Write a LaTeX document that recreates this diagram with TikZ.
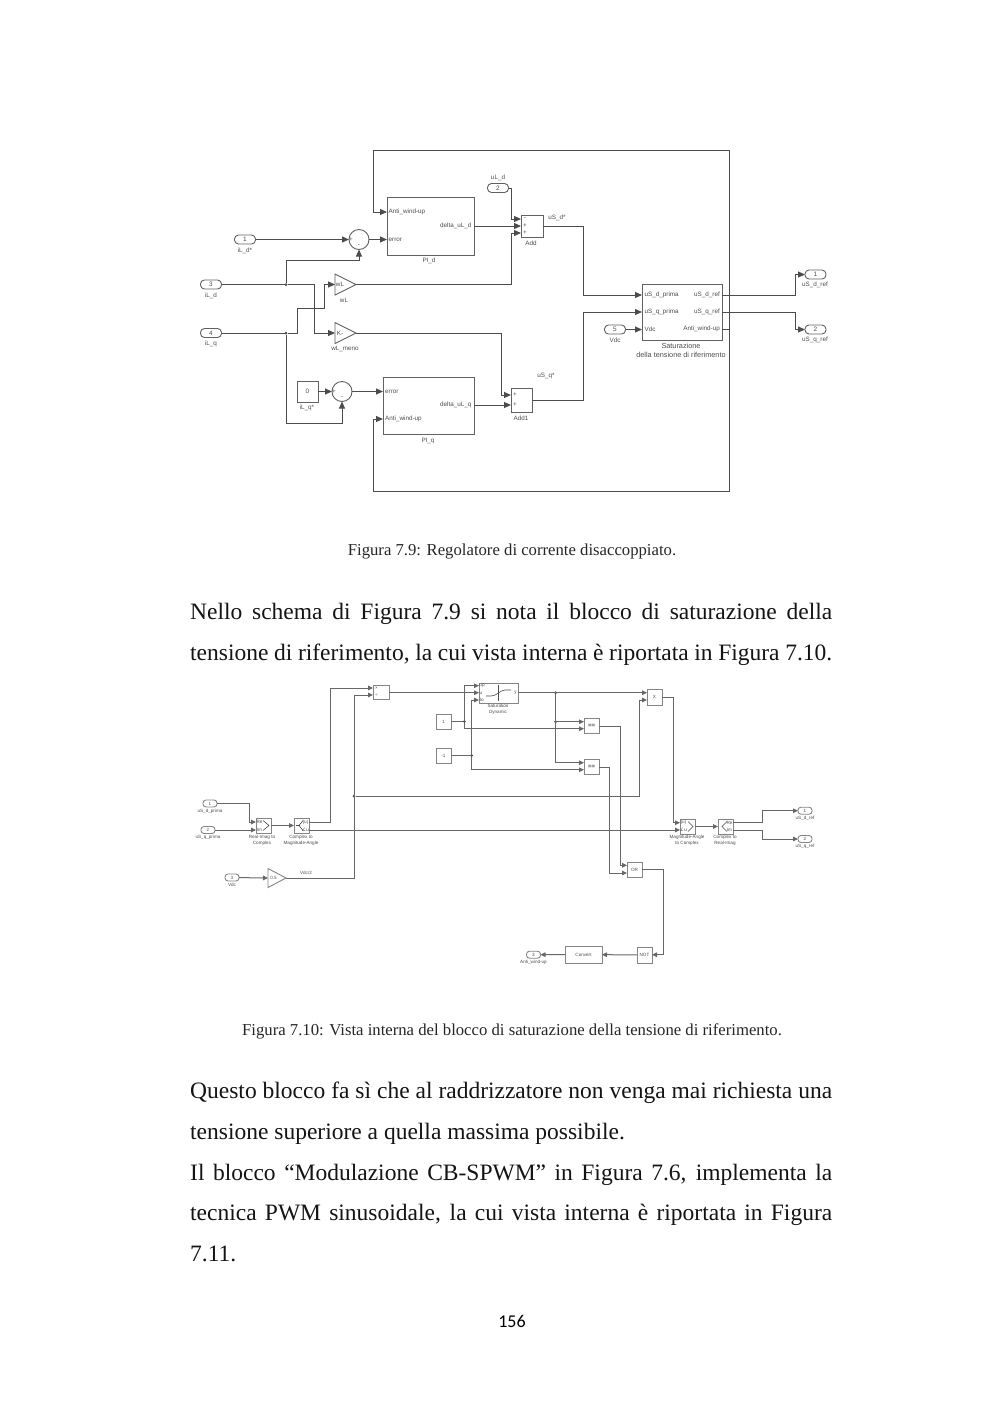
\documentclass[tikz,border=0pt]{standalone}
\usepackage{fontspec}
\setmainfont{Liberation Serif}
\setsansfont{Liberation Sans}
\newfontfamily\pagenofont{Carlito}
\newfontfamily\symbfont{DejaVu Sans}
\usetikzlibrary{arrows.meta, positioning, calc, shapes.geometric}
\definecolor{wirecol}{gray}{0.30}
\definecolor{boxcol}{gray}{0.38}
\definecolor{softbox}{gray}{0.52}
\definecolor{labelcol}{gray}{0.30}
\tikzset{
  bodyline/.style={anchor=base west, inner sep=0pt, font=\fontsize{23.5}{28}\selectfont, text=black!92},
  caption/.style={anchor=base, inner sep=0pt, font=\fontsize{16.7}{18}\selectfont, text=black!85},
  wire/.style={draw=wirecol, line width=1pt, >={Triangle[length=7pt,width=6pt]}},
  thinwire/.style={draw=wirecol!85, line width=1pt, >={Triangle[length=5pt,width=4.6pt]}},
  bigbox/.style={draw=boxcol, line width=1pt, fill=white, inner sep=0pt, outer sep=0pt},
  smallbox/.style={draw=softbox, line width=1pt, fill=white, inner sep=0pt, outer sep=0pt, text=labelcol, font=\sffamily\fontsize{4.6}{5}\selectfont},
  lab/.style={inner sep=0pt, text=labelcol, font=\sffamily\fontsize{6.3}{7.6}\selectfont, align=center},
  tiny/.style={inner sep=0pt, text=labelcol, font=\sffamily\fontsize{4.6}{6}\selectfont, align=center},
  port/.style={draw=boxcol, line width=.9pt, fill=white, rounded corners=4pt, minimum width=21pt, minimum height=9pt, inner sep=0pt, outer sep=0pt, text=labelcol, font=\sffamily\fontsize{6.4}{7}\selectfont},
  smallport/.style={draw=softbox, line width=.9pt, fill=white, rounded corners=3pt, minimum width=14pt, minimum height=7pt, inner sep=0pt, outer sep=0pt, text=labelcol, font=\sffamily\fontsize{4.6}{5}\selectfont},
  gain/.style={isosceles triangle, isosceles triangle apex angle=53, isosceles triangle stretches, draw=boxcol, line width=.9pt, fill=white, inner sep=0pt, outer sep=0pt, anchor=west},
  sumnode/.style={circle, draw=boxcol, line width=.9pt, fill=white, minimum size=20pt, inner sep=0pt, outer sep=0pt},
  dot/.style={circle, fill=wirecol, minimum size=3pt, inner sep=0pt, outer sep=0pt},
  size/.style 2 args={minimum width=#1pt, minimum height=#2pt},
  icon/.style={draw=wirecol, line width=.6pt},
}
\begin{document}
\begin{tikzpicture}[x=1pt, y=-1pt]
    \useasboundingbox (0,0) rectangle (1000,1414);

    % Regolatore: blocks
    \node[bigbox, size={87}{58}] (PId) at (430.5,226) {};
    \node[bigbox, size={91}{57}] (PIq) at (428.5,405.5) {};
    \node[bigbox, size={22}{22}] (Add) at (532,226) {};
    \node[bigbox, size={21}{24}] (AddB) at (521.5,400) {};
    \node[bigbox, size={80}{56}] (Sat) at (682,312) {};
    \node[bigbox, size={21}{21}, text=labelcol, font=\sffamily\fontsize{6.4}{7}\selectfont] (Kzero) at (307.5,391.5) {0};
    \node[sumnode] (Sumd) at (359,239.5) {};
    \node[sumnode] (Sumq) at (342,391.5) {};
    \node[gain, size={21}{21}] (wL) at (335,284.5) {};
    \node[gain, size={21}{21}] (wLmeno) at (335,333) {};

    % Regolatore: ports
    \node[port] (iLdstar) at (245,239.5) {1};
    \node[port] (iLd) at (211,284.5) {3};
    \node[port] (iLq) at (211,333) {4};
    \node[port] (uLd) at (498,188) {2};
    \node[port] (Vdc) at (615,329.5) {5};
    \node[port] (uSdref) at (815.5,274.5) {1};
    \node[port] (uSqref) at (815.5,329.5) {2};

    % Regolatore: junctions
    \node[dot] (jd) at (286,284.5) {};
    \node[dot] (jq) at (286,333) {};
    \coordinate (antiend) at (729,329);

    % Regolatore: connectors
    \draw[wire,->] (iLdstar) -- (Sumd);
    \draw[wire,->] (Sumd) -- (PId.west|-Sumd);
    \draw[wire,->] (iLd) -- (jd) -- (314,284.5) |- (wLmeno.west);
    \draw[wire,->] (jd) |- (359,260.5) -- (Sumd);
    \draw[wire,->] (iLq) -- (jq) -- (297,333) |- (324,308.7) |- (wL.west);
    \draw[wire,->] (jq) |- (342,423) -- (Sumq);
    \draw[wire,->] (wL.apex) -| (511.7,233) -- (Add.west|-0,233);
    \draw[wire,->] (wLmeno.apex) -| (501,395) -- (AddB.west|-0,395);
    \draw[wire,->] (uLd) -| (511.7,219) -- (Add.west|-0,219);
    \draw[wire,->] (PId.east|-Add) -- (Add);
    \draw[wire,->] (PIq.east|-0,405) -- (AddB.west|-0,405);
    \draw[wire,->] (Kzero) -- (Sumq);
    \draw[wire,->] (Sumq) -- (PIq.west|-Sumq);
    \draw[wire,->] (Add) -| (583.5,295) -- (Sat.west|-0,295);
    \draw[wire,->] (AddB) -| (583.5,312) -- (Sat.west|-0,312);
    \draw[wire,->] (Vdc) -- (Sat.west|-Vdc);
    \draw[wire,->] (Sat.east|-0,295) -| (795,274.5) -- (uSdref);
    \draw[wire,->] (Sat.east|-0,312) -| (795,329.5) -- (uSqref);
    \draw[wire] (Sat.east|-antiend) -- (antiend);
    \draw[wire,->] (antiend) |- (373,150) |- (PId.west|-0,212);
    \draw[wire,->] (antiend) |- (373,491) |- (PIq.west|-0,419);

    % Regolatore: labels
    \node[lab] (lb1) at (245,250.5) {iL\_d*};
    \node[lab] (lb2) at (211,295.5) {iL\_d};
    \node[lab] (lb3) at (211,344) {iL\_q};
    \node[lab] (lb4) at (498,177.5) {uL\_d};
    \node[lab] (lb5) at (344,300.5) {wL};
    \node[lab] (lb6) at (345,349) {wL\_meno};
    \node[lab] (lb7) at (307,408) {iL\_q*};
    \node[lab] (lb8) at (429,261) {PI\_d};
    \node[lab] (lb9) at (428,440.5) {PI\_q};
    \node[lab] (lb10) at (531,243) {Add};
    \node[lab] (lb11) at (521,418) {Add1};
    \node[lab] (lb12) at (557,217.5) {uS\_d*};
    \node[lab] (lb13) at (546,375.5) {uS\_q*};
    \node[lab] (lb14) at (615,340) {Vdc};
    \node[lab, font=\sffamily\fontsize{7.3}{9}\selectfont] (lb15) at (681,350) {Saturazione\\della tensione di riferimento};
    \node[lab] (lb16) at (815,285) {uS\_d\_ref};
    \node[lab] (lb17) at (815,340) {uS\_q\_ref};
    \node[lab, anchor=west] (lb18) at (388.5,212) {Anti\_wind-up};
    \node[lab, anchor=west] (lb19) at (388.5,239.5) {error};
    \node[lab, anchor=east] (lb20) at (471.5,226) {delta\_uL\_d};
    \node[lab, anchor=west] (lb21) at (385,391.5) {error};
    \node[lab, anchor=west] (lb22) at (385,419) {Anti\_wind-up};
    \node[lab, anchor=east] (lb23) at (471.5,405) {delta\_uL\_q};
    \node[lab, anchor=west] (lb24) at (644.5,295) {uS\_d\_prima};
    \node[lab, anchor=west] (lb25) at (644.5,312) {uS\_q\_prima};
    \node[lab, anchor=west] (lb26) at (644.5,329) {Vdc};
    \node[lab, anchor=east] (lb27) at (720,295) {uS\_d\_ref};
    \node[lab, anchor=east] (lb28) at (720,312) {uS\_q\_ref};
    \node[lab, anchor=east] (lb29) at (720,329) {Anti\_wind-up};
    \node[lab] (lb30) at (340,284.5) {wL};
    \node[lab] (lb31) at (340,333) {K-};
    \node[lab] (lb32) at (351,239.5) {+};
    \node[lab] (lb33) at (359,246) {-};
    \node[lab] (lb34) at (334,391.5) {+};
    \node[lab] (lb35) at (342,398) {-};
    \node[lab] (lb36) at (525,219) {-};
    \node[lab] (lb37) at (525,226) {+};
    \node[lab] (lb38) at (525,233) {+};
    \node[lab] (lb39) at (515,395) {+};
    \node[lab] (lb40) at (515,405) {+};

    % Saturazione: blocks
    \node[smallbox, size={15}{15}] (RI) at (263.5,825.5) {};
    \node[smallbox, size={15}{15}] (CM) at (301.5,825.5) {};
    \node[smallbox, size={16}{14}] (Prod) at (381,692) {};
    \node[smallbox, size={39}{20}] (SatDyn) at (498.5,693) {};
    \node[smallbox, size={15}{15}] (Kuno) at (443.5,721.5) {1};
    \node[smallbox, size={15}{15}] (Kmeno) at (443.5,755.5) {-1};
    \node[smallbox, size={15}{15}, font=\sffamily\bfseries\fontsize{6}{6}\selectfont] (RelA) at (591.5,725.5) {==};
    \node[smallbox, size={15}{15}, font=\sffamily\bfseries\fontsize{6}{6}\selectfont] (RelB) at (591.5,766.5) {==};
    \node[smallbox, size={15}{16}] (Mul) at (654.5,697) {X};
    \node[smallbox, size={15}{15}] (MC) at (687.5,826.5) {};
    \node[smallbox, size={15}{15}] (CR) at (725.5,826.5) {};
    \node[smallbox, size={15}{15}] (Or) at (634.5,869.5) {OR};
    \node[smallbox, size={15}{16}] (Not) at (644.5,955) {NOT};
    \node[smallbox, size={37}{17}] (Conv) at (583.5,954.5) {Convert};
    \node[gain, size={19}{18}, draw=softbox, isosceles triangle apex angle=50] (half) at (268,878) {};

    % Saturazione: ports
    \node[smallport] (uSdp) at (210,803.5) {1};
    \node[smallport] (uSqp) at (208,830) {2};
    \node[smallport] (Vdcb) at (232,877.5) {3};
    \node[smallport] (outd) at (805,810.7) {1};
    \node[smallport] (outq) at (805,839) {2};
    \node[smallport] (outa) at (533.5,954.7) {3};

    % Saturazione: junctions
    \node[dot] (ja) at (354,796) {};
    \node[dot] (jb) at (555.7,692.7) {};
    \node[dot] (jc) at (555.7,721.7) {};
    \node[dot] (je) at (464.3,721.5) {};
    \node[dot] (jf) at (471.7,755.5) {};

    % Saturazione: connectors
    \draw[thinwire,->] (uSdp) -| (249,822) -- (RI.west|-0,822);
    \draw[thinwire,->] (uSqp) -- (RI.west|-uSqp);
    \draw[thinwire,->] (RI) -- (CM);
    \draw[thinwire,->] (CM.east|-0,822.7) -| (330,688) -- (Prod.west|-0,688);
    \draw[thinwire,->] (CM.east|-0,830) -- (MC.west|-0,830);
    \draw[thinwire,->] (Vdcb) -- (half.west);
    \draw[thinwire,->] (half.apex) -| (354,695) -- (Prod.west|-0,695);
    \draw[thinwire,->] (ja) -| (639,700) -- (Mul.west|-0,700);
    \draw[thinwire,->] (Prod.east|-0,692.7) -- (SatDyn.west|-0,692.7);
    \draw[thinwire,->] (SatDyn.east|-0,692.7) -- (Mul.west|-0,692.7);
    \draw[thinwire,->] (jb) |- (RelB.west|-0,762.7);
    \draw[thinwire,->] (jc) -- (RelA.west|-jc);
    \draw[thinwire] (Kuno) -- (je);
    \draw[thinwire] (Kmeno) -- (jf);
    \draw[thinwire,->] (je) |- (SatDyn.west|-0,685.7);
    \draw[thinwire,->] (je) |- (RelA.west|-0,728.7);
    \draw[thinwire,->] (jf) |- (SatDyn.west|-0,700);
    \draw[thinwire,->] (jf) |- (RelB.west|-0,769.7);
    \draw[thinwire,->] (RelA.east|-0,726.7) -| (620,865.3) -- (Or.west|-0,865.3);
    \draw[thinwire,->] (RelB.east|-0,767) -| (609,873) -- (Or.west|-0,873);
    \draw[thinwire,->] (Or.east) -| (663.3,954.7) -- (Not.east|-0,954.7);
    \draw[thinwire,->] (Not) -- (Conv);
    \draw[thinwire,->] (Conv) -- (outa);
    \draw[thinwire,->] (Mul.east|-0,697.7) -| (673,822.7) -- (MC.west|-0,822.7);
    \draw[thinwire,->] (MC) -- (CR);
    \draw[thinwire] (CR.east|-0,822.7) -| (762,810.7);
    \draw[thinwire,->] (762,810.7) -- (outd);
    \draw[thinwire] (CR.east|-0,830) -| (762,839);
    \draw[thinwire,->] (762,839) -- (outq);

    % Saturazione: labels
    \node[tiny] (t1) at (210,811) {uS\_d\_prima};
    \node[tiny] (t2) at (208,837) {uS\_q\_prima};
    \node[tiny] (t3) at (232,885) {Vdc};
    \node[tiny] (t4) at (262,840) {Real-Imag to\\Complex};
    \node[tiny] (t5) at (301,840) {Complex to\\Magnitude-Angle};
    \node[tiny] (t6) at (498,709.5) {Saturation\\Dynamic};
    \node[tiny] (t7) at (687,840) {Magnitude-Angle\\to Complex};
    \node[tiny] (t8) at (725,840) {Complex to\\Real-Imag};
    \node[tiny] (t9) at (805,818) {uS\_d\_ref};
    \node[tiny] (t10) at (805,846) {uS\_q\_ref};
    \node[tiny] (t11) at (533.5,962) {Anti\_wind-up};
    \node[tiny] (t12) at (306,872.7) {Vdc/2};
    \node[tiny] (t13) at (273.5,878) {0.5};
    \node[tiny] (t14) at (376.5,688) {×};
    \node[tiny] (t15) at (376.5,695) {÷};
    \node[tiny] (t16) at (259.5,822) {Re};
    \node[tiny] (t17) at (259.5,830) {Im};
    \node[tiny] (t18) at (305.5,822.7) {|u|};
    \node[tiny, font=\symbfont\fontsize{4.6}{6}\selectfont] (t19) at (305.5,829.7) {∠u};
    \node[tiny] (t20) at (683.5,822.7) {|u|};
    \node[tiny, font=\symbfont\fontsize{4.6}{6}\selectfont] (t21) at (683.5,830) {∠u};
    \node[tiny] (t22) at (729.5,822.7) {Re};
    \node[tiny] (t23) at (729.5,830) {Im};
    \node[tiny] (t24) at (482,685.7) {up};
    \node[tiny] (t25) at (481,693) {u};
    \node[tiny] (t26) at (482,700) {lo};
    \node[tiny] (t27) at (515.5,693) {y};

    % Saturazione: block icons
    \draw[icon] (486,696) -- (491,696) .. controls (497,696) and (500,690) .. (505,690) -- (511,690);
    \draw[icon] (498,685) -- (498,701);
    \draw[icon] (263,820.5) -- (269,825.5) -- (263,830.5);
    \draw[icon] (296,825.5) -- (300,825.5);
    \draw[icon] (303,820.5) -- (299,825.5) -- (303,830.5);
    \draw[icon] (688,821.5) -- (693,826.5) -- (688,831.5);
    \draw[icon] (727,821.5) -- (722,826.5) -- (727,831.5);

    % Page text
    \node[caption] (cap9) at (512,555.5) {Figura 7.9: Regolatore di corrente disaccoppiato.};
    \node[bodyline] (p1) at (190,619.5) {\makebox[642pt][s]{Nello schema di Figura 7.9 si nota il blocco di saturazione della}};
    \node[bodyline] (p2) at (190,660) {\makebox[642pt][s]{tensione di riferimento, la cui vista interna è riportata in Figura 7.10.}};
    \node[caption] (cap10) at (512,1035.5) {Figura 7.10: Vista interna del blocco di saturazione della tensione di riferimento.};
    \node[bodyline] (p3) at (190,1098.5) {\makebox[642pt][s]{Questo blocco fa sì che al raddrizzatore non venga mai richiesta una}};
    \node[bodyline] (p4) at (190,1139.5) {tensione superiore a quella massima possibile.};
    \node[bodyline] (p5) at (190,1180) {\makebox[642pt][s]{Il blocco “Modulazione CB-SPWM” in Figura 7.6, implementa la}};
    \node[bodyline] (p6) at (190,1220.5) {\makebox[642pt][s]{tecnica PWM sinusoidale, la cui vista interna è riportata in Figura}};
    \node[bodyline] (p7) at (190,1261.5) {7.11.};
    \node[inner sep=0pt, anchor=base, font=\pagenofont\fontsize{18}{20}\selectfont] (pageno) at (512,1327) {156};
\end{tikzpicture}
\end{document}
